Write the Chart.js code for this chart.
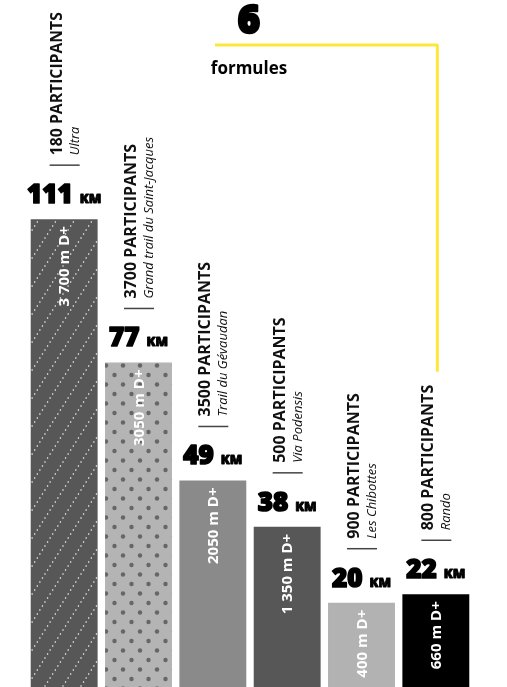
<!DOCTYPE html>
<html>
<head>
<meta charset="utf-8">
<script src="https://cdn.jsdelivr.net/npm/chart.js@4.4.1/dist/chart.umd.min.js"></script>
<style>
  html, body { margin: 0; padding: 0; background: #fff; }
  #wrap { width: 507px; height: 687px; }
</style>
</head>
<body>
<div id="wrap"><canvas id="myChart"></canvas></div>
<script>
const formules = ['Ultra', 'Grand trail du Saint-Jacques', 'Trail du Gévaudan', 'Via Podensis', 'Les Chibottes', 'Rando'];
const distances = [111, 77, 49, 38, 20, 22];
const participants = [180, 3700, 3500, 500, 900, 800];
const deniveles = ['3 700', '3050', '2050', '1 350', '400', '660'];
const nbFormules = '6';

const sans = '"Open Sans", "Noto Sans", sans-serif';

// texte très gras : fill + contour
function heavyText(ctx, txt, x, y, size, stroke) {
    ctx.font = '800 ' + size + 'px ' + sans;
    ctx.lineJoin = 'round';
    ctx.lineWidth = stroke;
    ctx.strokeStyle = ctx.fillStyle;
    ctx.strokeText(txt, x, y);
    ctx.fillText(txt, x, y);
}

function hatchPattern() {
    const c = document.createElement('canvas');
    c.width = 18; c.height = 28;
    const g = c.getContext('2d');
    g.fillStyle = '#575757';
    g.fillRect(0, 0, 18, 28);
    g.fillStyle = '#fff';
    for (let k = 0; k < 7; k++) {
        const t = (k + 0.5) / 7;
        g.beginPath();
        g.arc(t * 18, 28 - t * 28, 0.75, 0, Math.PI * 2);
        g.fill();
    }
    return g.createPattern(c, 'repeat');
}

function dotPattern() {
    const c = document.createElement('canvas');
    c.width = 17; c.height = 19;
    const g = c.getContext('2d');
    g.fillStyle = '#b4b4b4';
    g.fillRect(0, 0, 17, 19);
    g.fillStyle = '#666';
    [[4, 4.5], [12.5, 14]].forEach(p => {
        g.beginPath();
        g.arc(p[0], p[1], 2.2, 0, Math.PI * 2);
        g.fill();
    });
    return g.createPattern(c, 'repeat');
}

const labelsPlugin = {
    id: 'labels',
    afterDatasetsDraw(chart) {
        const ctx = chart.ctx;
        const bars = chart.getDatasetMeta(0).data;
        let lastTop = 0;

        bars.forEach((bar, i) => {
            const cx = bar.x;
            const top = bar.y;

            // dénivelé dans la barre
            ctx.save();
            ctx.translate(cx + 1, top + 7);
            ctx.rotate(-Math.PI / 2);
            ctx.fillStyle = '#fff';
            ctx.font = 'bold 15px ' + sans;
            ctx.textAlign = 'right';
            ctx.textBaseline = 'middle';
            ctx.fillText(deniveles[i] + ' m D+', 0, 0);
            ctx.restore();

            // distance au-dessus
            ctx.save();
            ctx.fillStyle = '#000';
            ctx.font = '800 26px ' + sans;
            const num = String(distances[i]);
            const wNum = ctx.measureText(num).width;
            ctx.font = '800 13px ' + sans;
            const wKm = ctx.measureText('KM').width;
            const x0 = cx - (wNum + 7 + wKm) / 2;
            const base = top - 16;
            ctx.textBaseline = 'alphabetic';
            heavyText(ctx, num, x0, base, 26, 1.7);
            heavyText(ctx, 'KM', x0 + wNum + 7, base, 13, 0.9);
            ctx.restore();

            // trait + participants
            const ruleY = top - 54;
            ctx.save();
            ctx.strokeStyle = '#444';
            ctx.lineWidth = 1.5;
            ctx.beginPath();
            ctx.moveTo(cx - 14.5, ruleY);
            ctx.lineTo(cx + 15.5, ruleY);
            ctx.stroke();

            const start = ruleY - 10;
            const txt = participants[i] + ' PARTICIPANTS';
            ctx.font = 'bold 16px ' + sans;
            let scale = 1;
            const w = ctx.measureText(txt).width;
            if (start - w < 12) scale = (start - 12) / w;
            ctx.translate(cx, start);
            ctx.rotate(-Math.PI / 2);
            ctx.fillStyle = '#111';
            ctx.textAlign = 'left';
            ctx.textBaseline = 'alphabetic';
            ctx.font = 'bold ' + (16 * scale) + 'px ' + sans;
            ctx.fillText(txt, 0, -2.5);
            ctx.font = 'italic ' + (13 * scale) + 'px ' + sans;
            ctx.fillText(formules[i], 0, 14.5);
            ctx.restore();

            if (i === bars.length - 1) lastTop = start - w * scale;
        });

        // titre
        const last = bars[bars.length - 1];
        ctx.save();
        ctx.fillStyle = '#000';
        ctx.textAlign = 'center';
        heavyText(ctx, nbFormules, 249, 33, 38, 2.4);
        ctx.font = 'bold 17px ' + sans;
        ctx.fillText('formules', 249, 74);

        ctx.strokeStyle = '#fce83a';
        ctx.lineWidth = 3;
        ctx.beginPath();
        ctx.moveTo(215, 45);
        ctx.lineTo(last.x + 1.5, 45);
        ctx.lineTo(last.x + 1.5, lastTop - 13);
        ctx.stroke();
        ctx.restore();
    }
};

function draw() {
    const ctx = document.getElementById('myChart');
    new Chart(ctx, {
        type: 'bar',
        data: {
            labels: formules,
            datasets: [{
                data: distances,
                backgroundColor: [hatchPattern(), dotPattern(), '#8a8a8a', '#575757', '#b2b2b2', '#000'],
                borderWidth: 0,
                barPercentage: 0.9,
                categoryPercentage: 1
            }]
        },
        options: {
            responsive: true,
            maintainAspectRatio: false,
            animation: false,
            layout: { padding: { left: 27, right: 34, top: 0, bottom: 0 } },
            scales: {
                x: { display: false },
                y: { display: false, min: 0, max: 163 }
            },
            plugins: {
                legend: { display: false },
                tooltip: { enabled: false }
            }
        },
        plugins: [labelsPlugin]
    });
}

Promise.all([
    document.fonts.load('800 26px "Open Sans"'),
    document.fonts.load('bold 16px "Open Sans"'),
    document.fonts.load('italic 12px "Open Sans"')
]).then(draw, draw);
</script>
</body>
</html>
